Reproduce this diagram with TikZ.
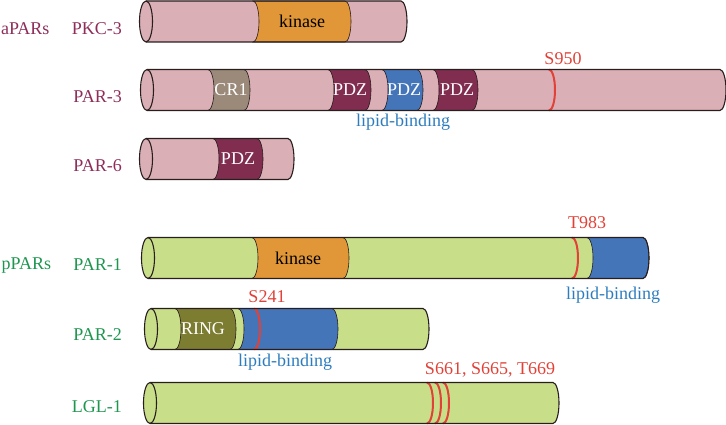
\documentclass[tikz,border=0pt]{standalone}
\usepackage{fontspec}
\setmainfont{Liberation Serif}
\usetikzlibrary{positioning}
\definecolor{apink}{RGB}{219,175,182}
\definecolor{pgreen}{RGB}{201,222,137}
\definecolor{kinorange}{RGB}{225,150,55}
\definecolor{crgray}{RGB}{155,138,122}
\definecolor{pdzred}{RGB}{128,45,80}
\definecolor{lipblue}{RGB}{68,117,185}
\definecolor{ringolive}{RGB}{125,125,50}
\definecolor{sitered}{RGB}{225,65,55}
\definecolor{amaroon}{RGB}{142,45,90}
\definecolor{ptext}{RGB}{30,150,80}
\definecolor{liptext}{RGB}{45,125,190}
\definecolor{edge}{RGB}{40,30,30}
\newcommand{\lbl}{\fontsize{18}{21}\selectfont}

% half height and end radius of the rods
\newcommand{\rodh}{20.5}
\newcommand{\rodrx}{6}

% #1 y, #2 left, #3 right, #4 fill
\newcommand{\rod}[4]{%
  \fill[#4] (#2,#1+\rodh) -- (#3,#1+\rodh) arc[start angle=90,end angle=-90,x radius=\rodrx,y radius=\rodh]
    -- (#2,#1-\rodh) arc[start angle=270,end angle=90,x radius=\rodrx,y radius=\rodh] -- cycle;}
% #1 y, #2 left, #3 right
\newcommand{\rodline}[3]{%
  \draw[edgeline] (#2,#1+\rodh) -- (#3,#1+\rodh) arc[start angle=90,end angle=-90,x radius=\rodrx,y radius=\rodh] -- (#2,#1-\rodh);
  \draw[edgeline] (#2,#1) ellipse[x radius=6.5,y radius=\rodh];}
% #1 y, #2 from, #3 to, #4 fill
\newcommand{\rdom}[4]{%
  \filldraw[#4, draw=edge, line width=0.6pt] (#2,#1+\rodh) arc[start angle=90,end angle=-90,x radius=\rodrx,y radius=\rodh]
    -- (#3,#1-\rodh) arc[start angle=-90,end angle=90,x radius=\rodrx,y radius=\rodh] -- cycle;}
% #1 y, #2 x
\newcommand{\psite}[2]{%
  \draw[siteline] (#2,#1+\rodh) arc[start angle=90,end angle=-90,x radius=\rodrx,y radius=\rodh];}

\begin{document}
\begin{tikzpicture}[x=1pt, y=1pt,
    edgeline/.style={draw=edge, line width=1.1pt},
    siteline/.style={sitered, line width=2pt},
    alab/.style={anchor=east, inner sep=0pt, font=\lbl, text=amaroon},
    plab/.style={anchor=east, inner sep=0pt, font=\lbl, text=ptext},
    dtxt/.style={inner sep=0pt, font=\lbl, text=white},
    stxt/.style={inner sep=0pt, font=\lbl, text=sitered},
    ltxt/.style={inner sep=0pt, font=\lbl, text=liptext},
    node distance=22pt,
  ]
  \useasboundingbox (0,0) rectangle (726,425);

  % aPARs
  \rod{403.5}{146}{401}{apink}
  \rdom{403.5}{253}{345}{kinorange}
  \rodline{403.5}{146}{401}
  \node[dtxt, text=black] (pkc-kin) at (302,403.5) {kinase};
  \node[alab] (pkc) at (122,396.5) {PKC-3};
  \node[alab, left=of pkc] (apars) {aPARs};

  \rod{335}{147}{720}{apink}
  \rdom{335}{208}{244}{crgray}
  \rdom{335}{328}{365}{pdzred}
  \rdom{335}{382}{417}{lipblue}
  \rdom{335}{433}{472}{pdzred}
  \psite{335}{549}
  \rodline{335}{147}{720}
  \node[dtxt] (par3-cr) at (231,335) {CR1};
  \node[dtxt] (par3-pdz1) at (350,335) {PDZ};
  \node[dtxt] (par3-pdz2) at (404,335) {PDZ};
  \node[dtxt] (par3-pdz3) at (457,335) {PDZ};
  \node[stxt] (s950) at (563,366) {S950};
  \node[ltxt] (par3-lip) at (403,303) {lipid-binding};
  \node[alab] (par3) at (122,328) {PAR-3};

  \rod{266}{146}{288}{apink}
  \rdom{266}{213}{257}{pdzred}
  \rodline{266}{146}{288}
  \node[dtxt] (par6-pdz) at (238,266) {PDZ};
  \node[alab] (par6) at (122,259) {PAR-6};

  % pPARs
  \rod{167}{148}{643}{pgreen}
  \rdom{167}{252}{343}{kinorange}
  \rdom{167}{587}{643}{lipblue}
  \psite{167}{572}
  \rodline{167}{148}{643}
  \node[dtxt, text=black] (par1-kin) at (298,167) {kinase};
  \node[stxt] (t983) at (587,202) {T983};
  \node[ltxt] (par1-lip) at (613,130) {lipid-binding};
  \node[plab] (par1) at (122,160) {PAR-1};
  \node[plab, left=of par1] (ppars) {pPARs};

  \rod{96}{151}{423}{pgreen}
  \rdom{96}{175}{230}{ringolive}
  \rdom{96}{238}{332}{lipblue}
  \psite{96}{254}
  \rodline{96}{151}{423}
  \node[dtxt] (par2-ring) at (203,96) {RING};
  \node[stxt] (s241) at (267,128) {S241};
  \node[ltxt] (par2-lip) at (285,63) {lipid-binding};
  \node[plab] (par2) at (122,90) {PAR-2};

  \rod{22}{150}{553}{pgreen}
  \psite{22}{427}
  \psite{22}{435}
  \psite{22}{443}
  \rodline{22}{150}{553}
  \node[stxt] (lgl-sites) at (490,55) {S661, S665, T669};
  \node[plab] (lgl) at (122,18) {LGL-1};
\end{tikzpicture}
\end{document}
